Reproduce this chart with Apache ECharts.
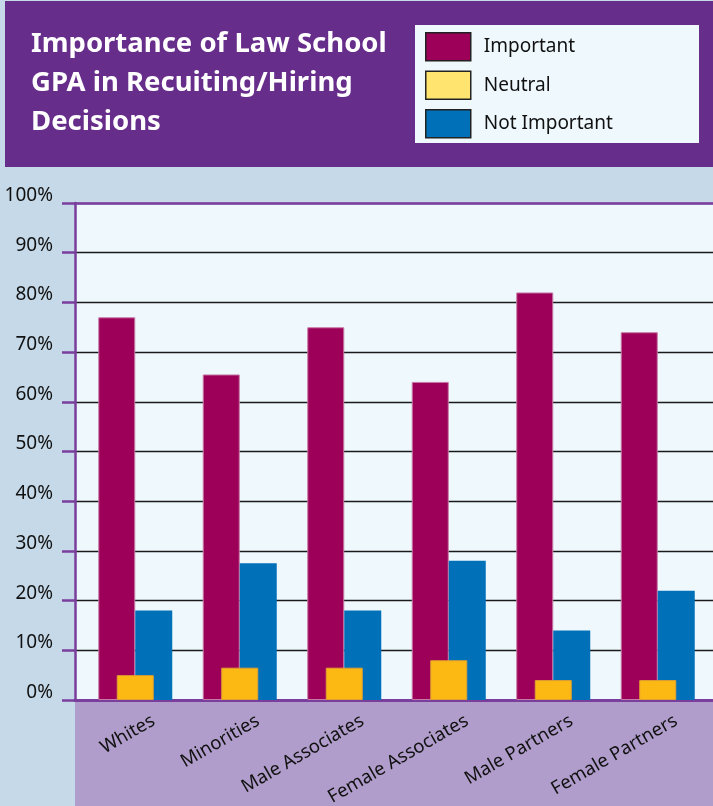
<!DOCTYPE html>
<html>
<head>
<meta charset="utf-8">
<script src="https://cdn.jsdelivr.net/npm/echarts@6/dist/echarts.min.js"></script>
<style>
  html, body { margin: 0; padding: 0; background: #c5d9e8; }
  #chart { width: 713px; height: 806px; }
</style>
</head>
<body>
<div id="chart"></div>
<script>
const categories = ["Whites", "Minorities", "Male Associates", "Female Associates", "Male Partners", "Female Partners"];
const important = [77, 65.5, 75, 64, 82, 74];
const neutral = [5, 6.5, 6.5, 8, 4, 4];
const notImportant = [18, 27.5, 18, 28, 14, 22];

const purple = "#7a3e9d";
const font = "Noto Sans";

const chart = echarts.init(document.getElementById("chart"));
chart.setOption({
  backgroundColor: "#c5d9e8",
  textStyle: { fontFamily: font },
  graphic: [
    { type: "rect", z: -10, shape: { x: 5, y: 1, width: 708, height: 166 }, style: { fill: "#662d8a" } },
    { type: "rect", z: -9, shape: { x: 415, y: 25, width: 284, height: 118 }, style: { fill: "#eef8fd" } },
    { type: "rect", z: -10, shape: { x: 75, y: 700, width: 638, height: 106 }, style: { fill: "#b09dcb" } }
  ],
  title: {
    text: "Importance of Law School\nGPA in Recuiting/Hiring\nDecisions",
    left: 26,
    top: 20,
    textStyle: { color: "#fff", fontSize: 27.5, fontWeight: "bold", lineHeight: 39, fontFamily: font }
  },
  legend: {
    orient: "vertical",
    left: 425,
    top: 32,
    padding: 0,
    itemWidth: 45,
    itemHeight: 28,
    itemGap: 9,
    icon: "rect",
    itemStyle: { borderColor: "#222", borderWidth: 1.5 },
    textStyle: { fontSize: 19, color: "#111", padding: [0, 0, 0, 8], fontFamily: font },
    data: [
      { name: "Important" },
      { name: "Neutral", itemStyle: { color: "#ffe46f" } },
      { name: "Not Important" }
    ]
  },
  grid: [
    { left: 83, right: 3, top: 203, bottom: 106, outerBoundsMode: "none" },
    { left: 75, right: 0, top: 203, bottom: 106, outerBoundsMode: "none", show: true, backgroundColor: "#eef8fd", borderWidth: 0, z: -1 }
  ],
  xAxis: [
    // frame of the plot (grid 1)
    { gridIndex: 1, type: "category", data: categories, axisLabel: { show: false }, axisTick: { show: false },
      axisLine: { lineStyle: { color: purple, width: 3 } } },
    { gridIndex: 1, type: "category", data: categories, position: "top", axisLabel: { show: false }, axisTick: { show: false },
      axisLine: { lineStyle: { color: purple, width: 2.5 } } },
    // bars (grid 0)
    { gridIndex: 0, type: "category", data: categories, axisLine: { show: false }, axisTick: { show: false },
      axisLabel: { interval: 0, rotate: 30, fontSize: 18.5, color: "#111", margin: 30, padding: [0, -21, 0, 0] } },
    { gridIndex: 0, type: "category", data: categories, show: false }
  ],
  yAxis: [
    { gridIndex: 1, type: "value", min: 0, max: 100, interval: 10,
      axisLine: { show: true, lineStyle: { color: purple, width: 2.5 } },
      axisTick: { show: true, length: 13, lineStyle: { color: purple, width: 2.5 } },
      axisLabel: { formatter: "{value}%", fontSize: 19, color: "#111", margin: 22, verticalAlign: "bottom", padding: [0, 0, -2, 0] },
      splitLine: { show: true, lineStyle: { color: [purple, "#1a1a1a", "#1a1a1a", "#1a1a1a", "#1a1a1a", "#1a1a1a", "#1a1a1a", "#1a1a1a", "#1a1a1a", "#1a1a1a", purple], width: 1.3 } } },
    { gridIndex: 0, type: "value", min: 0, max: 100, show: false, splitLine: { show: false } }
  ],
  series: [
    { name: "Important", type: "bar", xAxisIndex: 2, yAxisIndex: 1, data: important, barWidth: 37, barGap: "0%",
      itemStyle: { color: "#9c0058", borderColor: "#c77aa5", borderWidth: 1 } },
    { name: "Neutral", type: "bar", xAxisIndex: 3, yAxisIndex: 1, data: neutral, barWidth: 37, z: 3,
      itemStyle: { color: "#fdb913", borderColor: "#e0a030", borderWidth: 1 } },
    { name: "Not Important", type: "bar", xAxisIndex: 2, yAxisIndex: 1, data: notImportant, barWidth: 37, barGap: "0%",
      itemStyle: { color: "#0070b8" } }
  ]
});
</script>
</body>
</html>
